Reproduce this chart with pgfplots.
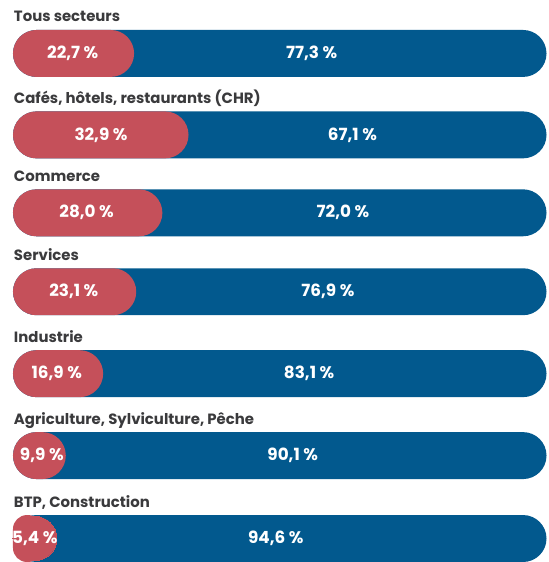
\documentclass[border=0pt]{standalone}
\usepackage{pgfplots}
\pgfplotsset{compat=1.18}
\usepackage{fontspec}
\setmainfont{Poppins}
\definecolor{redbar}{HTML}{C5505A}
\definecolor{bluebar}{HTML}{02598E}
\definecolor{labtxt}{HTML}{3A3A3C}
\begin{document}
\begin{tikzpicture}
\begin{axis}[
  at={(0,0)}, anchor=south west,
  scale only axis, width=549pt, height=562pt,
  xmin=-2.4345, xmax=100.3745, ymin=0, ymax=562, y dir=reverse,
  hide axis, clip=false, set layers,
  xbar, bar width=47pt, bar shift=0pt,
]
\addplot[fill=bluebar, draw=none, rounded corners=23.5pt] coordinates {
 (100,53.5) (100,135) (100,213) (100,292) (100,374) (100,456) (100,539)};
\addplot[fill=redbar, draw=none, rounded corners=23.5pt] coordinates {
 (22.7,53.5) (32.9,135) (28.0,213) (23.1,292) (16.9,374) (9.9,456)};
\addplot[fill=redbar, draw=none, rounded corners=14pt] coordinates {(5.4,539)};
\addplot[only marks, color=redbar, mark=*, mark size=22pt, mark options={draw=redbar, fill=redbar, line width=0pt}] coordinates {(4.12,539)};
\begin{pgfonlayer}{axis foreground}
% category labels
\begin{scope}[every node/.style={anchor=base west, inner sep=0pt, font=\bfseries\fontsize{14.9}{16}\selectfont, text=labtxt}]
\node at (axis cs:0.15,21.7) {Tous secteurs};
\node at (axis cs:0.15,103.5) {Cafés, hôtels, restaurants (CHR)};
\node at (axis cs:0.15,181.5) {Commerce};
\node at (axis cs:0.15,260.5) {Services};
\node at (axis cs:0.15,342.5) {Industrie};
\node at (axis cs:0.15,424.5) {Agriculture, Sylviculture, Pêche};
\node at (axis cs:0.15,507.5) {BTP, Construction};
\end{scope}
% value labels
\begin{scope}[every node/.style={anchor=center, inner sep=0pt, font=\bfseries\fontsize{16.8}{18}\selectfont, text=white}]
\node at (axis cs:11.2,53.5) {22,7 \%};
\node at (axis cs:55.99,53.5) {77,3 \%};
\node at (axis cs:16.5,135) {32,9 \%};
\node at (axis cs:63.63,135) {67,1 \%};
\node at (axis cs:13.8,213) {28,0 \%};
\node at (axis cs:61.85,213) {72,0 \%};
\node at (axis cs:11.4,292) {23,1 \%};
\node at (axis cs:59.04,292) {76,9 \%};
\node at (axis cs:8.2,374) {16,9 \%};
\node at (axis cs:55.5,374) {83,1 \%};
\node at (axis cs:5.4,456) {9,9 \%};
\node at (axis cs:52.43,456) {90,1 \%};
\node at (axis cs:4.1,539) {5,4 \%};
\node at (axis cs:49.25,539) {94,6 \%};
\end{scope}
\end{pgfonlayer}
\end{axis}
\path (0,0) rectangle (549pt,562pt);
\end{tikzpicture}
\end{document}
